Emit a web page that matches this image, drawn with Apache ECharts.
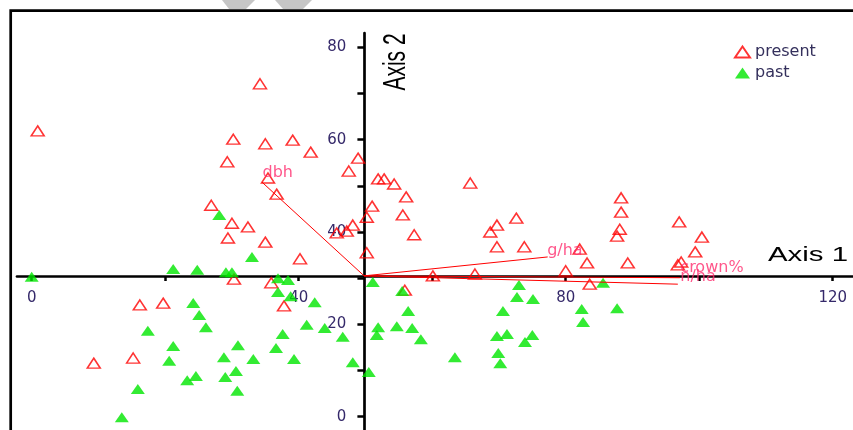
<!DOCTYPE html>
<html>
<head>
<meta charset="utf-8">
<script src="https://cdn.jsdelivr.net/npm/echarts@6/dist/echarts.min.js"></script>
<style>
html,body{margin:0;padding:0;background:#fff;}
#chart{width:853px;height:430px;}
</style>
</head>
<body>
<div id="chart"></div>
<script>
// Ordination scores
const presentPoints = [
  [0.9,61.9],[34.2,72.1],[30.2,60.1],[35.0,59.1],[39.1,59.9],[41.8,57.3],[29.3,55.2],
  [48.9,56.0],[47.5,53.2],[35.4,51.7],[36.7,48.2],[51.9,51.5],[52.8,51.5],[54.3,50.4],
  [56.1,47.6],[51.0,45.6],[55.6,43.7],[50.2,43.2],[57.3,39.4],[65.7,50.6],[69.7,41.5],
  [68.7,40.0],[72.6,43.0],[69.7,36.8],[73.8,36.8],[82.1,36.3],[83.2,33.3],[89.3,33.3],
  [80.0,31.6],[83.6,28.7],[88.3,47.4],[88.3,44.3],[88.1,40.6],[87.7,39.1],[97.0,42.2],
  [100.4,38.9],[99.4,35.7],[97.3,33.5],[96.8,32.9],[60.1,30.5],[66.4,30.9],[40.2,34.2],
  [30.3,29.8],[35.9,29.0],[37.8,24.0],[50.2,35.5],[55.9,27.4],[16.2,24.2],[19.7,24.6],
  [9.3,11.6],[15.2,12.7],[26.9,45.8],[30.0,41.9],[32.4,41.1],[29.4,38.7],[35.0,37.8],
  [48.1,41.5],[47.2,40.2],[45.7,39.8]
];
const pastPoints = [
  [0.0,30.3],[21.2,32.0],[24.8,31.8],[29.1,31.3],[30.0,31.3],[28.1,43.7],[33.0,34.6],
  [36.9,30.0],[38.4,29.6],[36.9,27.0],[38.8,26.1],[42.4,24.8],[41.2,19.9],[43.9,19.2],
  [46.6,17.3],[48.1,11.8],[50.5,9.7],[51.1,29.2],[55.5,27.2],[56.4,22.9],[51.9,19.4],
  [51.7,17.7],[54.7,19.6],[57.0,19.2],[58.3,16.8],[17.4,18.6],[24.2,24.6],[25.1,22.0],
  [26.1,19.4],[21.2,15.3],[20.6,12.1],[15.9,6.0],[13.5,-0.1],[28.8,12.9],[30.9,15.5],
  [33.2,12.5],[36.6,14.9],[39.3,12.5],[37.6,17.9],[23.3,7.9],[24.6,8.8],[29.0,8.6],
  [30.6,9.9],[30.8,5.6],[73.0,28.5],[72.7,25.9],[75.1,25.5],[70.6,22.9],[82.4,23.3],
  [87.7,23.5],[82.6,20.5],[85.6,29.0],[69.7,17.5],[71.2,17.9],[75.0,17.7],[73.9,16.2],
  [63.4,12.9],[69.9,13.8],[70.2,11.6]
];
const vectorOrigin = [49.8, 30.5];
const vectorNames = ['dbh', 'g/ha', 'crown%', 'n/ha'];
const vectorEnds = [[34.5,50.8],[77.3,34.6],[97.1,30.1],[96.8,28.7]];
const xTickValues = [0,20,40,60,80,100,120];
const xLabelValues = [0,40,80,120];
const yTickValues = [0,10,20,30,40,50,60,70,80];
const yLabelValues = [0,20,40,60,80];
const seriesNames = ['present','past'];
const axisTitles = ['Axis 1','Axis 2'];

// label placement only (pixels)
const vectorLabelOffsets = [[0,-9],[-1,-6],[0,-10],[2,-7]];

const chart = echarts.init(document.getElementById('chart'), null, {renderer:'canvas'});
const tickColor = '#35296a';
const option = {
  animation: false,
  backgroundColor: '#fff',
  grid: {left: 17, right: 0, top: 33, bottom: 0, containLabel: false},
  legend: {
    data: seriesNames,
    orient: 'vertical',
    left: 729, top: 39,
    itemWidth: 15, itemHeight: 11, itemGap: 5,
    textStyle: {fontSize: 16, fontFamily: 'DejaVu Sans', color: '#34305c', lineHeight: 16},
    selectedMode: false
  },
  xAxis: {
    type: 'value', min: -2.2, max: 123.04, position: 'bottom', offset: -154.1,
    axisLine: {onZero: false, lineStyle: {color: '#000', width: 2.7}},
    axisTick: {show: true, customValues: xTickValues, length: 5, lineStyle: {color: '#000', width: 2.5}},
    axisLabel: {customValues: xLabelValues, margin: 15, fontSize: 15, fontFamily: 'DejaVu Sans', color: tickColor},
    splitLine: {show: false}
  },
  yAxis: {
    type: 'value', min: -2.88, max: 83.1, position: 'left', offset: -347.4,
    axisLine: {onZero: false, lineStyle: {color: '#000', width: 2.7}},
    axisTick: {show: true, customValues: yTickValues, length: 7, lineStyle: {color: '#000', width: 2.5}},
    axisLabel: {customValues: yLabelValues, margin: 18, fontSize: 15, fontFamily: 'DejaVu Sans', color: tickColor},
    splitLine: {show: false}
  },
  graphic: [
    {type: 'polygon', z: 0, shape: {points: [[222,0],[229,9],[246,9],[255,0]]}, style: {fill: '#c6c6c6'}},
    {type: 'polygon', z: 0, shape: {points: [[275,0],[283,9],[303,9],[312,0]]}, style: {fill: '#c6c6c6'}},
    {type: 'rect', z: 1, shape: {x: 10.7, y: 10.7, width: 1000, height: 1000},
     style: {fill: 'none', stroke: '#000', lineWidth: 2.7}},
    {type: 'text', z: 5, x: 396, y: 62, rotation: Math.PI / 2, scaleX: 1, scaleY: 1.5,
     style: {text: axisTitles[1], font: '21px "Liberation Sans"', fill: '#000', align: 'center', verticalAlign: 'middle'}},
    {type: 'text', z: 5, x: 768, y: 255, scaleX: 1.4, scaleY: 1,
     style: {text: axisTitles[0], font: '21px "Liberation Sans"', fill: '#000', align: 'left', verticalAlign: 'middle'}}
  ],
  series: [
    {
      name: seriesNames[0], type: 'scatter', data: presentPoints,
      symbol: 'triangle', symbolSize: [13, 10], z: 3,
      itemStyle: {color: 'rgba(255,255,255,0)', borderColor: '#ff0000', borderWidth: 1.5},
      emphasis: {disabled: true}
    },
    {
      name: seriesNames[1], type: 'scatter', data: pastPoints,
      symbol: 'triangle', symbolSize: [14, 10], z: 4,
      itemStyle: {color: '#00e600', borderWidth: 0},
      emphasis: {disabled: true}
    },
    {
      name: 'vectors', type: 'lines', coordinateSystem: 'cartesian2d', z: 5,
      data: vectorEnds.map((e, i) => ({name: vectorNames[i], coords: [vectorOrigin, e]})),
      lineStyle: {color: '#ff0000', width: 1, opacity: 1},
      emphasis: {disabled: true}
    },
    {
      name: 'vectorLabels', type: 'scatter', z: 6,
      symbolSize: 1, itemStyle: {color: 'rgba(0,0,0,0)'},
      data: vectorEnds.map((e, i) => ({
        name: vectorNames[i], value: e,
        label: {offset: vectorLabelOffsets[i]}
      })),
      label: {show: true, position: 'right', distance: 0, formatter: '{b}',
              fontSize: 16, fontFamily: 'DejaVu Sans', color: '#ff2d6e'},
      emphasis: {disabled: true}
    }
  ]
};
chart.setOption(option);
</script>
</body>
</html>
